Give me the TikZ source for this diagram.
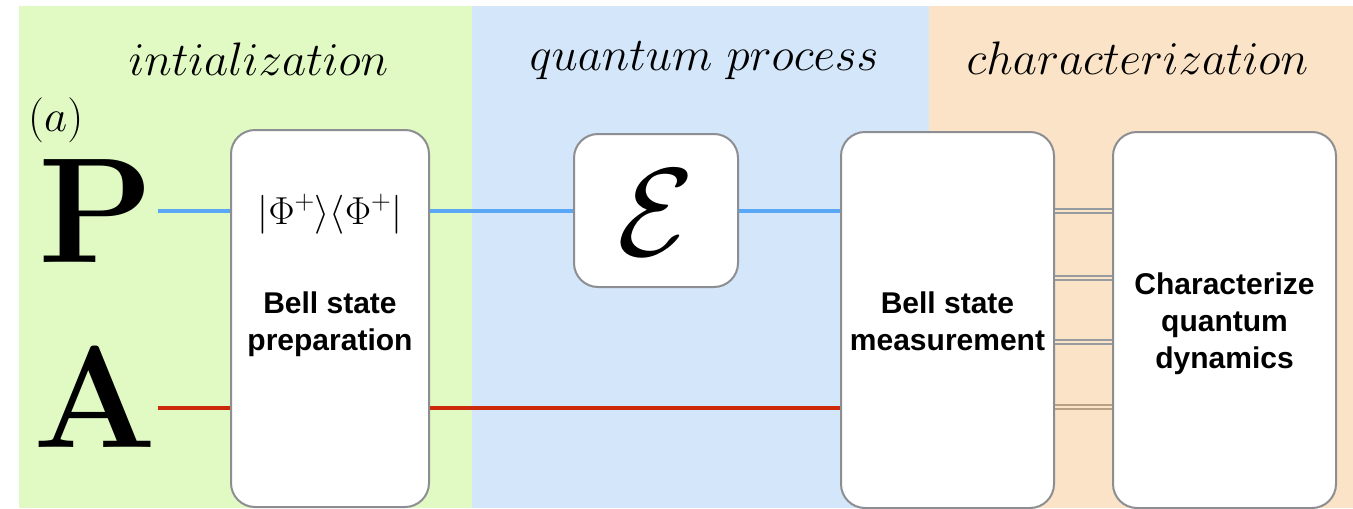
\RequirePackage{fix-cm}
\documentclass[tikz,border=0pt]{standalone}
\usepackage{fontspec}
\newfontfamily\labelsans{Liberation Sans}

\definecolor{initbg}{RGB}{225,250,196}
\definecolor{procbg}{RGB}{211,230,250}
\definecolor{charbg}{RGB}{250,227,199}
\definecolor{boxgrey}{RGB}{140,142,146}
\definecolor{probeblue}{RGB}{90,168,245}
\definecolor{ancillared}{RGB}{204,40,10}
\definecolor{wiregrey}{RGB}{150,155,160}
\definecolor{wiretan}{RGB}{185,160,130}

\begin{document}
\begin{tikzpicture}[x=1pt,y=-1pt,
  block/.style={draw=boxgrey, line width=2pt, rounded corners=24pt,
                fill=white, inner sep=0pt},
  stagelabel/.style={inner sep=0pt, font=\fontsize{47}{56}\selectfont},
  wirename/.style={inner sep=0pt, font=\fontsize{#1}{#1}\selectfont\bfseries},
  boxtext/.style={inner sep=0pt, align=center,
                  font=\labelsans\bfseries\fontsize{30}{37}\selectfont},
  qwire/.style={line width=3.2pt},
  cwire/.style={draw=wiregrey, line width=1.8pt, double=charbg, double distance=2.4pt},
]
\useasboundingbox (0,0) rectangle (1353,509);

% stage backgrounds
\fill[initbg] (19,6) rectangle (472,508);
\fill[procbg] (472,6) rectangle (929,508);
\fill[charbg] (929,6) rectangle (1353,508);

% stage titles
\node[stagelabel, anchor=base] (initlabel) at (258.5,75) {$intialization$};
\node[stagelabel, anchor=base] (proclabel) at (704,70) {$quantum\ process$};
\node[stagelabel, anchor=base] (charlabel) at (1137.5,74) {$characterization$};
\node[inner sep=0pt, anchor=base west, font=\fontsize{45}{54}\selectfont] (panel) at (28,131) {$(a)$};

% wire names and wire entry points
\node[wirename=150, anchor=base west] (plabel) at (38,262) {P};
\node[wirename=145, anchor=base west] (alabel) at (33,447) {A};
\coordinate (pin) at (158,211);
\coordinate (ain) at (158,408);

% boxes
\node[block, minimum width=198pt, minimum height=377pt] (prep) at (330,318.5) {};
\node[block, minimum width=164pt, minimum height=153pt] (chan) at (656,210.5) {};
\node[block, minimum width=213pt, minimum height=376pt] (meas) at (947.5,320) {};
\node[block, minimum width=223pt, minimum height=376pt] (tomo) at (1224.5,320) {};

% wires
\draw[qwire, probeblue] (pin) -- (pin -| prep.west);
\draw[qwire, probeblue] (pin -| prep.east) -- (pin -| chan.west);
\draw[qwire, probeblue] (pin -| chan.east) -- (pin -| meas.west);
\draw[qwire, ancillared] (ain) -- (ain -| prep.west);
\draw[qwire, ancillared] (ain -| prep.east) -- (ain -| meas.west);

% classical outcomes
\draw[cwire] (meas.east |- 0,211) -- (tomo.west |- 0,211);
\draw[cwire] (meas.east |- 0,278) -- (tomo.west |- 0,278);
\draw[cwire] (meas.east |- 0,342) -- (tomo.west |- 0,342);
\draw[cwire, draw=wiretan] (meas.east |- 0,407) -- (tomo.west |- 0,407);

% box contents
\node[inner sep=0pt, anchor=base, font=\fontsize{39}{46}\selectfont] (ket) at (330,224)
  {$|\Phi^+\rangle\langle\Phi^+|$};
\node[boxtext, anchor=base] (preptext) at (330,350) {Bell state\\preparation};
\node[inner sep=0pt, font=\fontsize{125}{130}\selectfont] (chansym) at (656,213) {$\mathcal{E}$};
\node[boxtext, anchor=base] (meastext) at (947.5,350) {Bell state\\measurement};
\node[boxtext, anchor=base] (tomotext) at (1224.5,368) {Characterize\\quantum\\dynamics};
\end{tikzpicture}
\end{document}
